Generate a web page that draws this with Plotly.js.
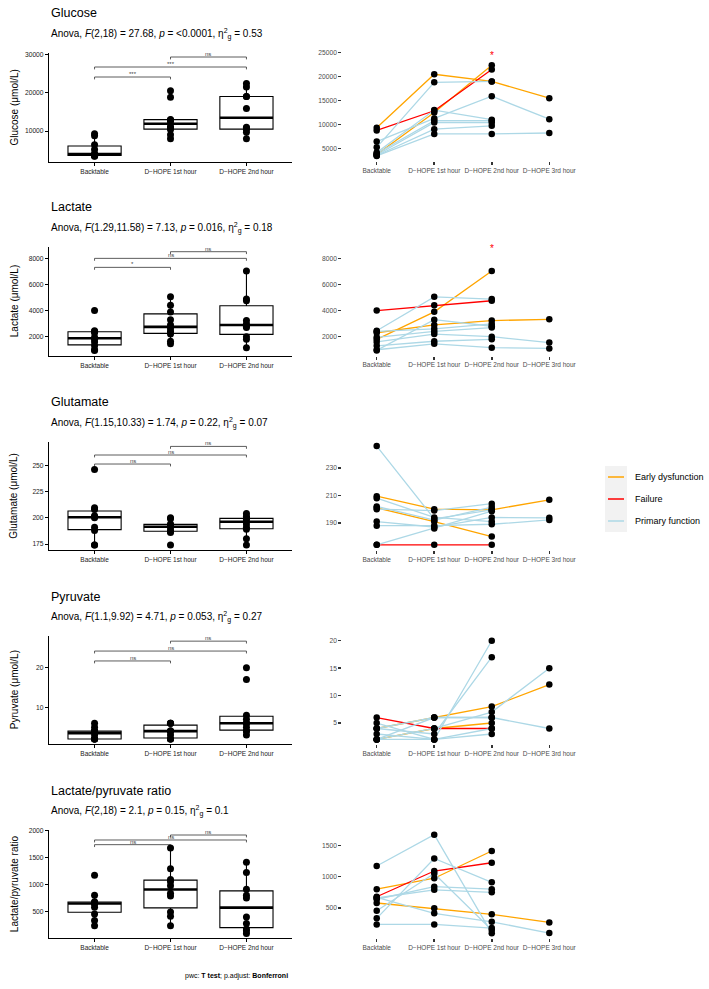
<!DOCTYPE html>
<html><head><meta charset="utf-8">
<script src="https://cdn.plot.ly/plotly-3.0.1.min.js"></script>
<style>html,body{margin:0;padding:0;background:#fff}</style>
</head><body><div id="chart" style="width:709px;height:989px"></div>
<script>
const W = 709, H = 989;
const timepoints = ['Backtable', 'D\u2212HOPE 1st hour', 'D\u2212HOPE 2nd hour', 'D\u2212HOPE 3rd hour'];
const outcomeNames = ['Early dysfunction', 'Failure', 'Primary function'];
const outcomeColors = ['#FFA500', '#FF0000', '#ADD8E6'];
const E = 'Early dysfunction', F = 'Failure', P = 'Primary function';

// ---- Glucose ----
const glucoseGroup     = [E, F, E, P, P, P, P, P, P, P];
const glucoseBacktable = [9300, 8750, 3700, 5200, 4100, 6400, 3900, 3600, 3500, 3400];
const glucose1h        = [20500, 12850, 12500, 18800, 13000, 11250, 10800, 10400, 9000, 8000];
const glucose2h        = [19000, 21500, 22400, 19000, 11000, 15900, 10800, 10400, 9700, 8000];
const glucose3h        = [15500, null, null, null, null, 11100, null, null, null, 8200];
const glucoseBracketY  = [24087, 26696, 29304];
const glucoseBracketLabels = ['***', '***', 'ns'];
const glucoseStarY = 24514;

// ---- Lactate ----
const lactateGroup     = [F, E, E, P, P, P, P, P, P, P];
const lactateBacktable = [4000, 1800, 2300, 2450, 950, 2400, 1600, 1000, 1300, 1950];
const lactate1h        = [4400, 3900, 2900, 5050, 3300, 2600, 2200, 1450, 1650, 2400];
const lactate2h        = [4750, 7030, 3230, 4880, 2800, 2980, 2000, 1160, 1800, 2700];
const lactate3h        = [null, null, 3330, null, null, null, 1550, 1100, null, null];
const lactateBracketY  = [7310, 8000, 8511];
const lactateBracketLabels = ['*', 'ns', 'ns'];
const lactateStarY = 8766;

// ---- Glutamate ----
const glutamateGroup     = [F, P, E, E, P, P, P, P, P, P];
const glutamateBacktable = [174, 174, 209.5, 201, 246, 208, 202, 200, 191, 188];
const glutamate1h        = [174, 186, 200, 191, 193, 194, 192, 199, 187, 188];
const glutamate2h        = [174, 198.5, 199.5, 180, 199.5, 191, 201.5, 204, 194, 189];
const glutamate3h        = [null, null, 206.8, null, null, null, null, null, 193.7, 192.2];
const glutamateBracketY  = [251.3, 259.9, 268.1];
const glutamateBracketLabels = ['ns', 'ns', 'ns'];

// ---- Pyruvate ----
const pyruvateGroup     = [F, E, E, P, P, P, P, P, P, P];
const pyruvateBacktable = [6, 2, 4, 5, 4, 2, 2, 3, 2, 4];
const pyruvate1h        = [4, 4, 6, 2, 3, 6, 4, 2, 2, 6];
const pyruvate2h        = [4, 5, 8, 20, 17, 6, 7, 3, 4, 6];
const pyruvate3h        = [null, null, 12, null, null, 4, 15, null, null, null];
const pyruvateBracketY  = [21.7, 24.2, 26.7];
const pyruvateBracketLabels = ['ns', 'ns', 'ns'];

// ---- Lactate/pyruvate ratio ----
const ratioGroup     = [F, E, E, P, P, P, P, P, P, P];
const ratioBacktable = [680, 800, 580, 1170, 335, 457, 640, 660, 668, 239];
const ratio1h        = [1090, 975, 495, 1670, 1290, 1050, 840, 790, 415, 239];
const ratio2h        = [1222, 1409, 399, 96, 910, 150, 800, 750, 280, 180];
const ratio3h        = [null, null, 271, null, null, null, null, null, 101, null];
const ratioBracketY  = [1733, 1819, 1911];
const ratioBracketLabels = ['ns', 'ns', 'ns'];

const comparisons = [[0, 1], [0, 2], [1, 2]];

const rows = [
  {title: 'Glucose', ytitle: 'Glucose (\u03bcmol/L)',
   anova: 'Anova, <i>F</i>(2,18) = 27.68, <i>p</i> = &lt;0.0001, \u03b7<sup>2</sup><sub>g</sub> = 0.53',
   group: glucoseGroup, series: [glucoseBacktable, glucose1h, glucose2h, glucose3h],
   bracketY: glucoseBracketY, bracketLabels: glucoseBracketLabels, star: glucoseStarY},
  {title: 'Lactate', ytitle: 'Lactate (\u03bcmol/L)',
   anova: 'Anova, <i>F</i>(1.29,11.58) = 7.13, <i>p</i> = 0.016, \u03b7<sup>2</sup><sub>g</sub> = 0.18',
   group: lactateGroup, series: [lactateBacktable, lactate1h, lactate2h, lactate3h],
   bracketY: lactateBracketY, bracketLabels: lactateBracketLabels, star: lactateStarY},
  {title: 'Glutamate', ytitle: 'Glutamate (\u03bcmol/L)',
   anova: 'Anova, <i>F</i>(1.15,10.33) = 1.74, <i>p</i> = 0.22, \u03b7<sup>2</sup><sub>g</sub> = 0.07',
   group: glutamateGroup, series: [glutamateBacktable, glutamate1h, glutamate2h, glutamate3h],
   bracketY: glutamateBracketY, bracketLabels: glutamateBracketLabels, star: null},
  {title: 'Pyruvate', ytitle: 'Pyruvate (\u03bcmol/L)',
   anova: 'Anova, <i>F</i>(1.1,9.92) = 4.71, <i>p</i> = 0.053, \u03b7<sup>2</sup><sub>g</sub> = 0.27',
   group: pyruvateGroup, series: [pyruvateBacktable, pyruvate1h, pyruvate2h, pyruvate3h],
   bracketY: pyruvateBracketY, bracketLabels: pyruvateBracketLabels, star: null},
  {title: 'Lactate/pyruvate ratio', ytitle: 'Lactate/pyruvate ratio',
   anova: 'Anova, <i>F</i>(2,18) = 2.1, <i>p</i> = 0.15, \u03b7<sup>2</sup><sub>g</sub> = 0.1',
   group: ratioGroup, series: [ratioBacktable, ratio1h, ratio2h, ratio3h],
   bracketY: ratioBracketY, bracketLabels: ratioBracketLabels, star: null}
];

// ---- layout geometry (pixels) ----
const leftX = [49, 292], rightX = [342.2, 583.8];
const leftPx  = [[53, 162], [246.7, 355.7], [441.7, 550], [636, 744.3], [830, 938.3]];
const rightPx = [[50, 161], [243.2, 355.5], [441.1, 549.8], [635.8, 744.4], [829.7, 938.3]];
const leftRanges = [[1913, 30348], [542, 8894], [169.3, 272.6], [0.67, 28.0], [9, 2003]];
const leftDticks = [10000, 2000, 25, 10, 500];
const rightDticks = [5000, 2000, 20, 5, 500];
const rightTick0 = [0, 0, 10, 0, 0];

const FONT = 'Liberation Sans, Arial, Helvetica, sans-serif';
const px2x = p => p / W, py2y = p => 1 - p / H;
const axName = (t, n) => (n === 1 ? t : t + n);
const axKey = (t, n) => (n === 1 ? t + 'axis' : t + 'axis' + n);

// R type-7 quantile (as ggplot's stat_boxplot)
function quant(arr, p) {
  const s = arr.filter(v => v !== null).slice().sort((a, b) => a - b);
  const h = (s.length - 1) * p, lo = Math.floor(h);
  const hi = Math.min(lo + 1, s.length - 1);
  return s[lo] + (h - lo) * (s[hi] - s[lo]);
}
function boxStats(arr) {
  const v = arr.filter(x => x !== null);
  const q1 = quant(v, 0.25), med = quant(v, 0.5), q3 = quant(v, 0.75), iqr = q3 - q1;
  const inside = v.filter(x => x >= q1 - 1.5 * iqr && x <= q3 + 1.5 * iqr);
  return {q1, med, q3, lf: Math.min(...inside), uf: Math.max(...inside)};
}

const traces = [];
const layout = {
  width: W, height: H, margin: {l: 0, r: 0, t: 0, b: 0},
  paper_bgcolor: '#fff', plot_bgcolor: 'rgba(0,0,0,0)',
  showlegend: false, boxmode: 'overlay',
  font: {family: FONT, color: '#000'},
  annotations: [], shapes: []
};

rows.forEach((row, r) => {
  const li = 2 * r + 1, ri = 2 * r + 2;
  const lxa = axName('x', li), lya = axName('y', li);
  const rxa = axName('x', ri), rya = axName('y', ri);
  const [lt, lb] = leftPx[r], [rt, rb] = rightPx[r];

  // ---------- left panel ----------
  layout[axKey('x', li)] = {
    domain: [px2x(leftX[0]), px2x(leftX[1])], range: [-0.6, 2.6], anchor: lya,
    tickmode: 'array', tickvals: [0, 1, 2], ticktext: timepoints.slice(0, 3),
    showline: true, linecolor: '#000', linewidth: 1.1, ticks: 'outside', ticklen: 3,
    tickcolor: '#000', tickwidth: 1, tickfont: {size: 6.5, color: '#222', family: FONT},
    showgrid: false, zeroline: false, fixedrange: true
  };
  layout[axKey('y', li)] = {
    domain: [py2y(lb), py2y(lt)], range: leftRanges[r], anchor: lxa,
    tickmode: 'linear', tick0: 0, dtick: leftDticks[r], tickformat: 'd',
    showline: true, linecolor: '#000', linewidth: 1.1, ticks: 'outside', ticklen: 3,
    tickcolor: '#000', tickwidth: 1, tickfont: {size: 6.7, color: '#222', family: FONT},
    showgrid: false, zeroline: false, fixedrange: true
  };

  const stats = [0, 1, 2].map(t => boxStats(row.series[t]));
  traces.push({
    type: 'box', x: [0, 1, 2], xaxis: lxa, yaxis: lya, width: 0.7,
    q1: stats.map(s => s.q1), median: stats.map(s => s.med), q3: stats.map(s => s.q3),
    lowerfence: stats.map(s => s.lf), upperfence: stats.map(s => s.uf),
    fillcolor: '#fff', line: {color: '#000', width: 1.1}, whiskerwidth: 0,
    hoverinfo: 'skip'
  });
  // thick median lines
  const mx = [], my = [];
  stats.forEach((s, t) => { mx.push(t - 0.35, t + 0.35, null); my.push(s.med, s.med, null); });
  traces.push({type: 'scatter', mode: 'lines', x: mx, y: my, xaxis: lxa, yaxis: lya,
    line: {color: '#000', width: 2.6}, hoverinfo: 'skip'});
  // comparison brackets
  const span = leftRanges[r][1] - leftRanges[r][0];
  const tip = span * 0.022;
  const kx = [], ky = [];
  comparisons.forEach((c, k) => {
    const yv = row.bracketY[k];
    kx.push(c[0], c[0], c[1], c[1], null);
    ky.push(yv - tip, yv, yv, yv - tip, null);
    layout.annotations.push({xref: lxa, yref: lya, x: (c[0] + c[1]) / 2, y: yv, yanchor: 'bottom',
      text: row.bracketLabels[k], showarrow: false, font: {size: 6, color: '#444', family: FONT}, borderpad: 0, yshift: -1});
  });
  traces.push({type: 'scatter', mode: 'lines', x: kx, y: ky, xaxis: lxa, yaxis: lya,
    line: {color: '#333', width: 0.8}, hoverinfo: 'skip'});
  // points
  const bx = [], by = [];
  for (let t = 0; t < 3; t++) row.series[t].forEach(v => { if (v !== null) { bx.push(t); by.push(v); } });
  traces.push({type: 'scatter', mode: 'markers', x: bx, y: by, xaxis: lxa, yaxis: lya,
    marker: {color: '#000', size: 7}, hoverinfo: 'skip'});

  // titles
  layout.annotations.push({xref: 'paper', yref: 'paper', x: px2x(leftX[0]), y: py2y(lt - 39.5),
    xanchor: 'left', yanchor: 'middle', text: row.title, showarrow: false,
    font: {size: 12.5, color: '#000', family: FONT}});
  layout.annotations.push({xref: 'paper', yref: 'paper', x: px2x(leftX[0]), y: py2y(lt - 19),
    xanchor: 'left', yanchor: 'middle', text: row.anova, showarrow: false,
    font: {size: 10, color: '#000', family: FONT}});
  layout.annotations.push({xref: 'paper', yref: 'paper', x: px2x(14), y: py2y((lt + lb) / 2),
    xanchor: 'center', yanchor: 'middle', textangle: -90, text: row.ytitle, showarrow: false,
    font: {size: 10, color: '#000', family: FONT}});

  // ---------- right panel ----------
  let mn = Infinity, mxv = -Infinity;
  row.series.forEach(s => s.forEach(v => { if (v !== null) { mn = Math.min(mn, v); mxv = Math.max(mxv, v); } }));
  if (row.star !== null) mxv = Math.max(mxv, row.star);
  const pad = (mxv - mn) * 0.05;
  layout[axKey('x', ri)] = {
    domain: [px2x(rightX[0]), px2x(rightX[1])], range: [-0.6, 3.6], anchor: rya,
    tickmode: 'array', tickvals: [0, 1, 2, 3], ticktext: timepoints,
    showline: false, ticks: 'outside', ticklen: 3, tickwidth: 1.5, tickcolor: '#333',
    tickfont: {size: 6.5, color: '#4d4d4d', family: FONT},
    showgrid: false, zeroline: false, fixedrange: true
  };
  layout[axKey('y', ri)] = {
    domain: [py2y(rb), py2y(rt)], range: [mn - pad, mxv + pad], anchor: rxa,
    tickmode: 'linear', tick0: rightTick0[r], dtick: rightDticks[r], tickformat: 'd',
    showline: false, ticks: 'outside', ticklen: 3, tickwidth: 1.5, tickcolor: '#333',
    tickfont: {size: 6.7, color: '#4d4d4d', family: FONT},
    showgrid: false, zeroline: false, fixedrange: true
  };
  outcomeNames.forEach((g, gi) => {
    row.group.forEach((pg, p) => {
      if (pg !== g) return;
      traces.push({type: 'scatter', mode: 'lines', x: [0, 1, 2, 3],
        y: row.series.map(s => s[p]), xaxis: rxa, yaxis: rya, connectgaps: false,
        line: {color: outcomeColors[gi], width: 1.3}, hoverinfo: 'skip'});
    });
  });
  const px = [], py = [];
  row.series.forEach((s, t) => s.forEach(v => { if (v !== null) { px.push(t); py.push(v); } }));
  traces.push({type: 'scatter', mode: 'markers', x: px, y: py, xaxis: rxa, yaxis: rya,
    marker: {color: '#000', size: 6.5}, hoverinfo: 'skip'});
  if (row.star !== null) {
    layout.annotations.push({xref: rxa, yref: rya, x: 2, y: row.star, text: '*', showarrow: false,
      yanchor: 'middle', font: {size: 10, color: '#FF0000', family: FONT}});
  }
});

// ---- legend ----
const legendKeyX = [605, 627], legendY = [477, 499, 521];
layout.shapes.push({type: 'rect', xref: 'paper', yref: 'paper', x0: px2x(legendKeyX[0]), x1: px2x(legendKeyX[1]),
  y0: py2y(532), y1: py2y(466), fillcolor: '#F2F2F2', line: {width: 0}, layer: 'below'});
outcomeNames.forEach((g, i) => {
  layout.shapes.push({type: 'line', xref: 'paper', yref: 'paper', x0: px2x(608), x1: px2x(624),
    y0: py2y(legendY[i]), y1: py2y(legendY[i]), line: {color: outcomeColors[i], width: 1.5}});
  layout.annotations.push({xref: 'paper', yref: 'paper', x: px2x(633), y: py2y(legendY[i]),
    xanchor: 'left', yanchor: 'middle', text: g, showarrow: false, font: {size: 9, color: '#000', family: FONT}});
});

// ---- footer ----
layout.annotations.push({xref: 'paper', yref: 'paper', x: px2x(290), y: py2y(976), xanchor: 'right', yanchor: 'middle',
  text: 'pwc: <b>T test</b>; p.adjust: <b>Bonferroni</b>', showarrow: false, font: {size: 7, color: '#000', family: FONT}});

Plotly.newPlot('chart', traces, layout, {staticPlot: true, displayModeBar: false});
</script>
</body></html>
